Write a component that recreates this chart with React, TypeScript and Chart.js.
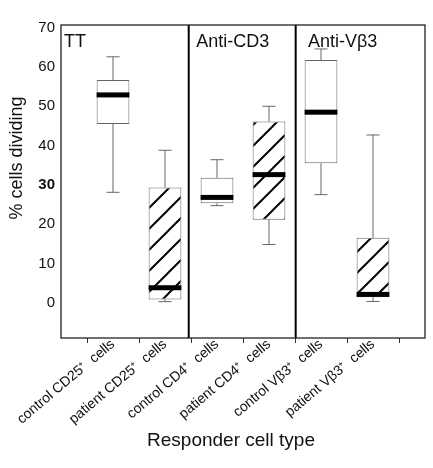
import React, { useEffect, useRef } from "react";
import { Chart, registerables } from "chart.js";
Chart.register(...registerables);

const categories = [
  "",
  "control CD25⁺  cells",
  "patient CD25⁺  cells",
  "control CD4⁺  cells",
  "patient CD4⁺  cells",
  "control Vβ3⁺  cells",
  "patient Vβ3⁺  cells",
  "",
];
const whiskerMin = [null, 28.1, 0.25, 24.7, 14.8, 27.5, 0.3, null];
const q1 = [null, 45.5, 0.8, 25.3, 21.1, 35.5, 1.4, null];
const medians = [null, 52.9, 3.8, 26.8, 32.6, 48.5, 2.1, null];
const q3 = [null, 56.7, 29.3, 31.8, 46.1, 61.8, 16.5, null];
const whiskerMax = [null, 62.6, 38.8, 36.4, 50.0, 64.6, 42.7, null];
const isPatient = [false, false, true, false, true, false, true, false];
const panelLabels = ["TT", "Anti-CD3", "Anti-Vβ3"];
const panelLabelAt = [0.06, 2.6, 4.75];
const dividers = [2.456, 4.513];
const yTicks = [0, 10, 20, 30, 40, 50, 60, 70];
const yMin = -9;
const yMax = 70.7;
const yTitle = "% cells dividing";
const xTitle = "Responder cell type";

const FONT = "'Liberation Sans', Arial, Helvetica, sans-serif";
const INK = "#111";

function makeHatch(ctx: CanvasRenderingContext2D) {
  const s = 21;
  const c = document.createElement("canvas");
  c.width = s;
  c.height = s;
  const g = c.getContext("2d")!;
  g.fillStyle = "#fff";
  g.fillRect(0, 0, s, s);
  g.strokeStyle = "#000";
  g.lineWidth = 2;
  g.beginPath();
  g.moveTo(-3, s + 3);
  g.lineTo(s + 3, -3);
  g.moveTo(-3, 3);
  g.lineTo(3, -3);
  g.moveTo(s - 3, s + 3);
  g.lineTo(s + 3, s - 3);
  g.stroke();
  return ctx.createPattern(c, "repeat");
}

const overlay = {
  id: "overlay",
  afterDatasetsDraw(chart: any) {
    const { ctx, chartArea: a, scales } = chart;
    const x = scales.x;
    const y = scales.y;
    const meta = chart.getDatasetMeta(0);
    ctx.save();
    // whiskers and medians
    for (let i = 0; i < categories.length; i++) {
      if (medians[i] == null) continue;
      const el = meta.data[i];
      const w = el.width;
      const cx = x.getPixelForValue(i);
      const cap = 6.5;
      ctx.strokeStyle = "#666";
      ctx.lineWidth = 1;
      ctx.beginPath();
      const yTop = y.getPixelForValue(whiskerMax[i] as number);
      const yQ3 = y.getPixelForValue(q3[i] as number);
      const yBot = y.getPixelForValue(whiskerMin[i] as number);
      const yQ1 = y.getPixelForValue(q1[i] as number);
      ctx.moveTo(cx, yQ3);
      ctx.lineTo(cx, yTop);
      ctx.moveTo(cx - cap, yTop);
      ctx.lineTo(cx + cap, yTop);
      ctx.moveTo(cx, yQ1);
      ctx.lineTo(cx, yBot);
      ctx.moveTo(cx - cap, yBot);
      ctx.lineTo(cx + cap, yBot);
      ctx.stroke();
      const ym = y.getPixelForValue(medians[i] as number);
      ctx.fillStyle = "#000";
      ctx.fillRect(cx - w / 2, ym - 2.5, w, 5);
    }
    // dividers
    ctx.strokeStyle = "#000";
    ctx.lineWidth = 2;
    ctx.beginPath();
    for (const d of dividers) {
      const px = x.getPixelForValue(d);
      ctx.moveTo(px, a.top);
      ctx.lineTo(px, a.bottom);
    }
    ctx.stroke();
    // frame
    ctx.lineWidth = 1.3;
    ctx.strokeStyle = "#222";
    ctx.strokeRect(a.left, a.top, a.right - a.left, a.bottom - a.top);
    // panel labels
    ctx.fillStyle = INK;
    ctx.font = `18px ${FONT}`;
    ctx.textAlign = "left";
    ctx.textBaseline = "alphabetic";
    panelLabels.forEach((t, i) => {
      ctx.fillText(t, x.getPixelForValue(panelLabelAt[i]), a.top + 22);
    });
    // axis titles
    ctx.font = `18px ${FONT}`;
    ctx.textAlign = "center";
    ctx.textBaseline = "middle";
    ctx.save();
    ctx.translate(17, 158);
    ctx.rotate(-Math.PI / 2);
    ctx.fillText(yTitle, 0, 0);
    ctx.restore();
    ctx.font = `19px ${FONT}`;
    ctx.fillText(xTitle, 231, 441);
    ctx.restore();
  },
};

export default function App() {
  const ref = useRef<HTMLCanvasElement | null>(null);
  useEffect(() => {
    const canvas = ref.current!;
    const c2d = canvas.getContext("2d")!;
    const hatch = makeHatch(c2d);
    const bg = isPatient.map((p) => (p ? hatch : "#fff"));
    const chart = new Chart(canvas, {
      type: "bar",
      data: {
        labels: categories,
        datasets: [
          {
            data: q1.map((v, i) => (v == null ? null : [v, q3[i] as number])) as any,
            backgroundColor: bg as any,
            borderColor: "#666",
            borderWidth: 1,
            borderSkipped: false,
            barPercentage: 0.63,
            categoryPercentage: 1,
          },
        ],
      },
      options: {
        animation: false,
        responsive: true,
        maintainAspectRatio: false,
        layout: { padding: { top: 25, right: 8, left: 0, bottom: 0 } },
        plugins: { legend: { display: false }, tooltip: { enabled: false } },
        scales: {
          x: {
            type: "category",
            offset: false,
            grid: {
              display: true,
              drawOnChartArea: false,
              drawTicks: true,
              tickLength: 5,
              color: "#333",
            },
            border: { display: false },
            ticks: {
              autoSkip: false,
              minRotation: 40,
              maxRotation: 40,
              color: INK,
              font: { family: FONT, size: 14 },
              padding: -7,
            },
            afterFit: (s: any) => {
              s.height = 130;
            },
          },
          y: {
            min: yMin,
            max: yMax,
            grid: { display: false },
            border: { display: false },
            ticks: {
              color: INK,
              padding: -2,
              font: (c: any) => ({
                family: FONT,
                size: 15,
                weight: c.tick && c.tick.value === 30 ? "bold" : "normal",
              }),
            },
            afterBuildTicks: (s: any) => {
              s.ticks = yTicks.map((v) => ({ value: v }));
            },
            afterFit: (s: any) => {
              s.width = 61;
            },
          },
        },
      } as any,
      plugins: [overlay],
    });
    return () => chart.destroy();
  }, []);
  return (
    <div style={{ position: "absolute", left: 0, top: 0, width: 433, height: 468, background: "#fff" }}>
      <canvas ref={ref} />
    </div>
  );
}
